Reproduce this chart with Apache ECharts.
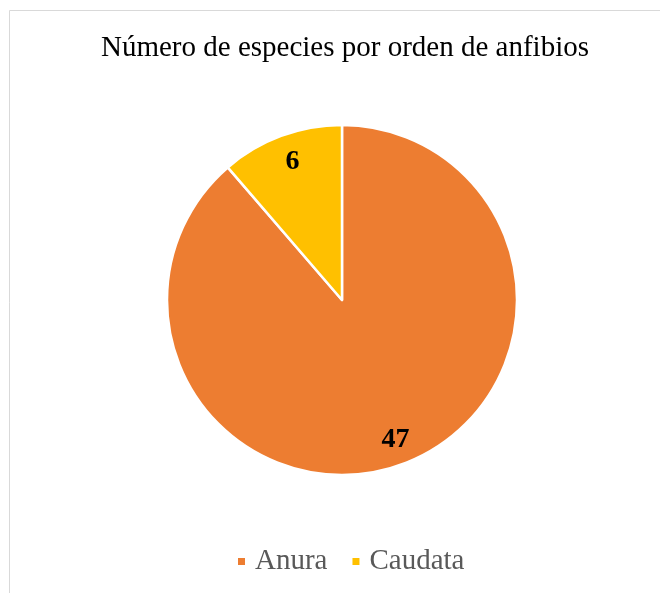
<!DOCTYPE html>
<html>
<head>
<meta charset="utf-8">
<script src="https://cdn.jsdelivr.net/npm/echarts@6/dist/echarts.min.js"></script>
<style>
  html, body { margin: 0; padding: 0; background: #fff; }
  #chart { width: 660px; height: 593px; }
</style>
</head>
<body>
<div id="chart"></div>
<script>
// Species count per amphibian order
const orders = ['Anura', 'Caudata'];
const speciesCount = [47, 6];
const sliceColors = ['#ED7D31', '#FFC000'];

const pieData = orders.map((name, i) => ({
  name: name,
  value: speciesCount[i],
  itemStyle: { color: sliceColors[i] }
}));

const serif = '"Liberation Serif", "Times New Roman", serif';
const chart = echarts.init(document.getElementById('chart'));

chart.setOption({
  backgroundColor: '#fff',
  animation: false,
  title: {
    text: 'Número de especies por orden de anfibios',
    left: 96,
    top: 29,
    textStyle: { fontFamily: serif, fontSize: 29, fontWeight: 'normal', color: '#000' }
  },
  legend: {
    data: orders,
    left: 231,
    top: 542,
    icon: 'rect',
    itemWidth: 9,
    itemHeight: 9,
    itemGap: 23,
    textStyle: { fontFamily: serif, fontSize: 29, color: '#595959', padding: [0, 0, 0, 4] }
  },
  graphic: [{
    type: 'rect',
    shape: { x: 9.5, y: 10.5, width: 700, height: 700 },
    style: { fill: 'none', stroke: '#d9d9d9', lineWidth: 1 },
    silent: true
  }],
  series: [
    {
      type: 'pie',
      center: [342, 300],
      radius: [0, 175],
      startAngle: 90,
      clockwise: true,
      data: pieData,
      itemStyle: { borderColor: '#fff', borderWidth: 2.5 },
      label: { show: false },
      labelLine: { show: false },
      emphasis: { disabled: true }
    },
    {
      // transparent ring that carries the value labels near the rim
      type: 'pie',
      center: [344, 301],
      radius: [115, 175],
      startAngle: 90,
      clockwise: true,
      silent: true,
      data: pieData.map(d => ({ name: d.name, value: d.value, itemStyle: { color: 'rgba(0,0,0,0)' } })),
      itemStyle: { borderWidth: 0 },
      label: {
        show: true,
        position: 'inside',
        formatter: '{c}',
        fontFamily: serif,
        fontSize: 28,
        fontWeight: 'bold',
        color: '#000'
      },
      labelLine: { show: false },
      emphasis: { disabled: true }
    }
  ]
});
</script>
</body>
</html>
